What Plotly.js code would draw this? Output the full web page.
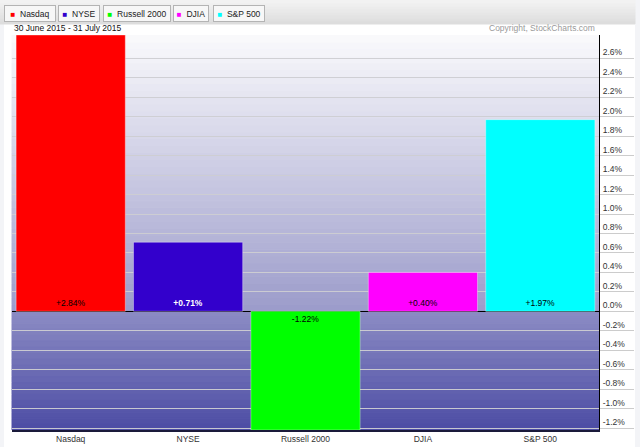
<!DOCTYPE html>
<html>
<head>
<meta charset="utf-8">
<script src="https://cdn.plot.ly/plotly-3.0.1.min.js"></script>
<style>
  html, body { margin: 0; padding: 0; background: #ffffff; }
  #chart { width: 640px; height: 447px; }
</style>
</head>
<body>
<div id="chart"></div>
<script>
// ---- Data ----
const categories = ['Nasdaq', 'NYSE', 'Russell 2000', 'DJIA', 'S&P 500'];
const changes = [2.84, 0.71, -1.22, 0.40, 1.97];
const barColors = ['#ff0000', '#3300cc', '#00ff00', '#ff00ff', '#00ffff'];
const labelColors = ['#000000', '#ffffff', '#000000', '#000000', '#000000'];
const labelWeights = ['normal', 'bold', 'normal', 'normal', 'normal'];
const yTicks = [-1.2, -1.0, -0.8, -0.6, -0.4, -0.2, 0.0, 0.2, 0.4, 0.6, 0.8, 1.0, 1.2, 1.4, 1.6, 1.8, 2.0, 2.2, 2.4, 2.6];
const dateRange = '30 June 2015 - 31 July 2015';
const copyright = 'Copyright, StockCharts.com';

// ---- Build ----
const FONT = 'Liberation Sans, Arial, Helvetica, sans-serif';
const FS = 8.5;
const yMin = Math.min(...changes);
const yMax = Math.max(...changes);

function pct(v) { return (v > 0 ? '+' : '') + v.toFixed(2) + '%'; }
const yTickText = yTicks.map(v => v.toFixed(1) + '%');

const traces = categories.map((c, i) => ({
  type: 'bar',
  x: [c],
  y: [changes[i]],
  name: c,
  showlegend: false,
  marker: { color: barColors[i], line: { color: 'rgba(255,255,255,0.35)', width: 1 } },
  text: [pct(changes[i])],
  texttemplate: '%{text}',
  textposition: 'inside',
  insidetextanchor: 'start',
  textangle: 0,
  constraintext: 'none',
  insidetextfont: { family: FONT, size: FS, color: labelColors[i], weight: labelWeights[i] },
  hoverinfo: 'x+y'
}));

function lerp(a, b, t) { return Math.round(a + (b - a) * t); }
function rgb(c1, c2, t) {
  return 'rgb(' + lerp(c1[0], c2[0], t) + ',' + lerp(c1[1], c2[1], t) + ',' + lerp(c1[2], c2[2], t) + ')';
}

const shapes = [];
// white page body between thin light edges
shapes.push({ type: 'rect', xref: 'paper', yref: 'paper', xsizemode: 'pixel', xanchor: 0,
  x0: -8, x1: 623, y0: -0.1, y1: 1.2, line: { width: 0 }, fillcolor: '#ffffff', layer: 'below' });
// header bar gradient
const hTop = [243, 243, 243], hBot = [220, 220, 220];
const HN = 8;
for (let k = 0; k < HN; k++) {
  const col = rgb(hBot, hTop, (k + 0.5) / HN);
  shapes.push({ type: 'rect', xref: 'paper', yref: 'paper', xsizemode: 'pixel', xanchor: 0,
    ysizemode: 'pixel', yanchor: 1,
    x0: -12, x1: 623, y0: 11 + k * 3, y1: 11 + (k + 1) * 3,
    line: { width: 1, color: col }, fillcolor: col, layer: 'below' });
}
// plot background gradient (above zero)
const aTop = [250, 250, 252], aBot = [155, 155, 202];
const N = 40;
for (let k = 0; k < N; k++) {
  const v0 = yMax * k / N, v1 = yMax * (k + 1) / N;
  const col = rgb(aBot, aTop, (k + 0.5) / N);
  shapes.push({ type: 'rect', xref: 'paper', yref: 'y', x0: 0, x1: 1, y0: v0, y1: v1,
    line: { width: 1, color: col }, fillcolor: col, layer: 'below' });
}
// below zero
const bTop = [140, 140, 196], bBot = [76, 76, 164];
const M = 20;
for (let k = 0; k < M; k++) {
  const v0 = yMin * k / M, v1 = yMin * (k + 1) / M;
  const col = rgb(bTop, bBot, (k + 0.5) / M);
  shapes.push({ type: 'rect', xref: 'paper', yref: 'y', x0: 0, x1: 1, y0: v0, y1: v1,
    line: { width: 1, color: col }, fillcolor: col, layer: 'below' });
}

// legend-like buttons
const legendLeft = [-8, 46, 91, 161, 201];
const legendWidth = [52, 42, 68, 36, 52];
const annotations = categories.map((c, i) => ({
  xref: 'paper', yref: 'paper', x: 0, y: 1, xanchor: 'left', yanchor: 'middle',
  xshift: legendLeft[i], yshift: 21.5,
  text: '<span style="color:' + barColors[i] + ';font-size:8px">■</span>  ' + c,
  showarrow: false, align: 'center',
  width: legendWidth[i] - 4, height: 13, borderpad: 1,
  bordercolor: '#b4b4b4', borderwidth: 1, bgcolor: '#f7f7f7',
  font: { family: FONT, size: FS, color: '#222222' }
}));
annotations.push({
  xref: 'paper', yref: 'paper', x: 0, y: 1, xanchor: 'left', yanchor: 'middle',
  xshift: 0, yshift: 7, text: dateRange, showarrow: false,
  font: { family: FONT, size: FS, color: '#111111' }
});
annotations.push({
  xref: 'paper', yref: 'paper', x: 1, y: 1, xanchor: 'right', yanchor: 'middle',
  xshift: -2, yshift: 7, text: copyright, showarrow: false,
  font: { family: FONT, size: FS, color: '#9a9a9a' }
});

const layout = {
  width: 640, height: 447,
  margin: { l: 12, r: 41, t: 35, b: 17, pad: 0 },
  paper_bgcolor: '#f3f4f7',
  plot_bgcolor: 'rgba(0,0,0,0)',
  barmode: 'overlay',
  bargap: 0.07,
  font: { family: FONT, size: FS, color: '#333333' },
  xaxis: {
    type: 'category', categoryorder: 'array', categoryarray: categories,
    showgrid: false, showline: true, linecolor: '#1a1a3a', linewidth: 1.5,
    ticks: '', tickfont: { family: FONT, size: FS, color: '#333333' },
    fixedrange: true
  },
  yaxis: {
    side: 'right', range: [yMin, yMax],
    tickmode: 'array', tickvals: yTicks, ticktext: yTickText,
    showgrid: true, gridcolor: 'rgba(205,205,210,0.95)', gridwidth: 1,
    zeroline: true, zerolinecolor: '#000000', zerolinewidth: 1,
    showline: true, linecolor: '#000000', linewidth: 1,
    ticks: 'outside', ticklen: 34, tickcolor: '#cccccc', tickwidth: 1,
    ticklabelstandoff: -33, ticklabelshift: -6,
    tickfont: { family: FONT, size: FS, color: '#333333' },
    fixedrange: true
  },
  shapes: shapes,
  annotations: annotations,
  showlegend: false
};

Plotly.newPlot('chart', traces, layout, { displayModeBar: false, staticPlot: true });
</script>
</body>
</html>
